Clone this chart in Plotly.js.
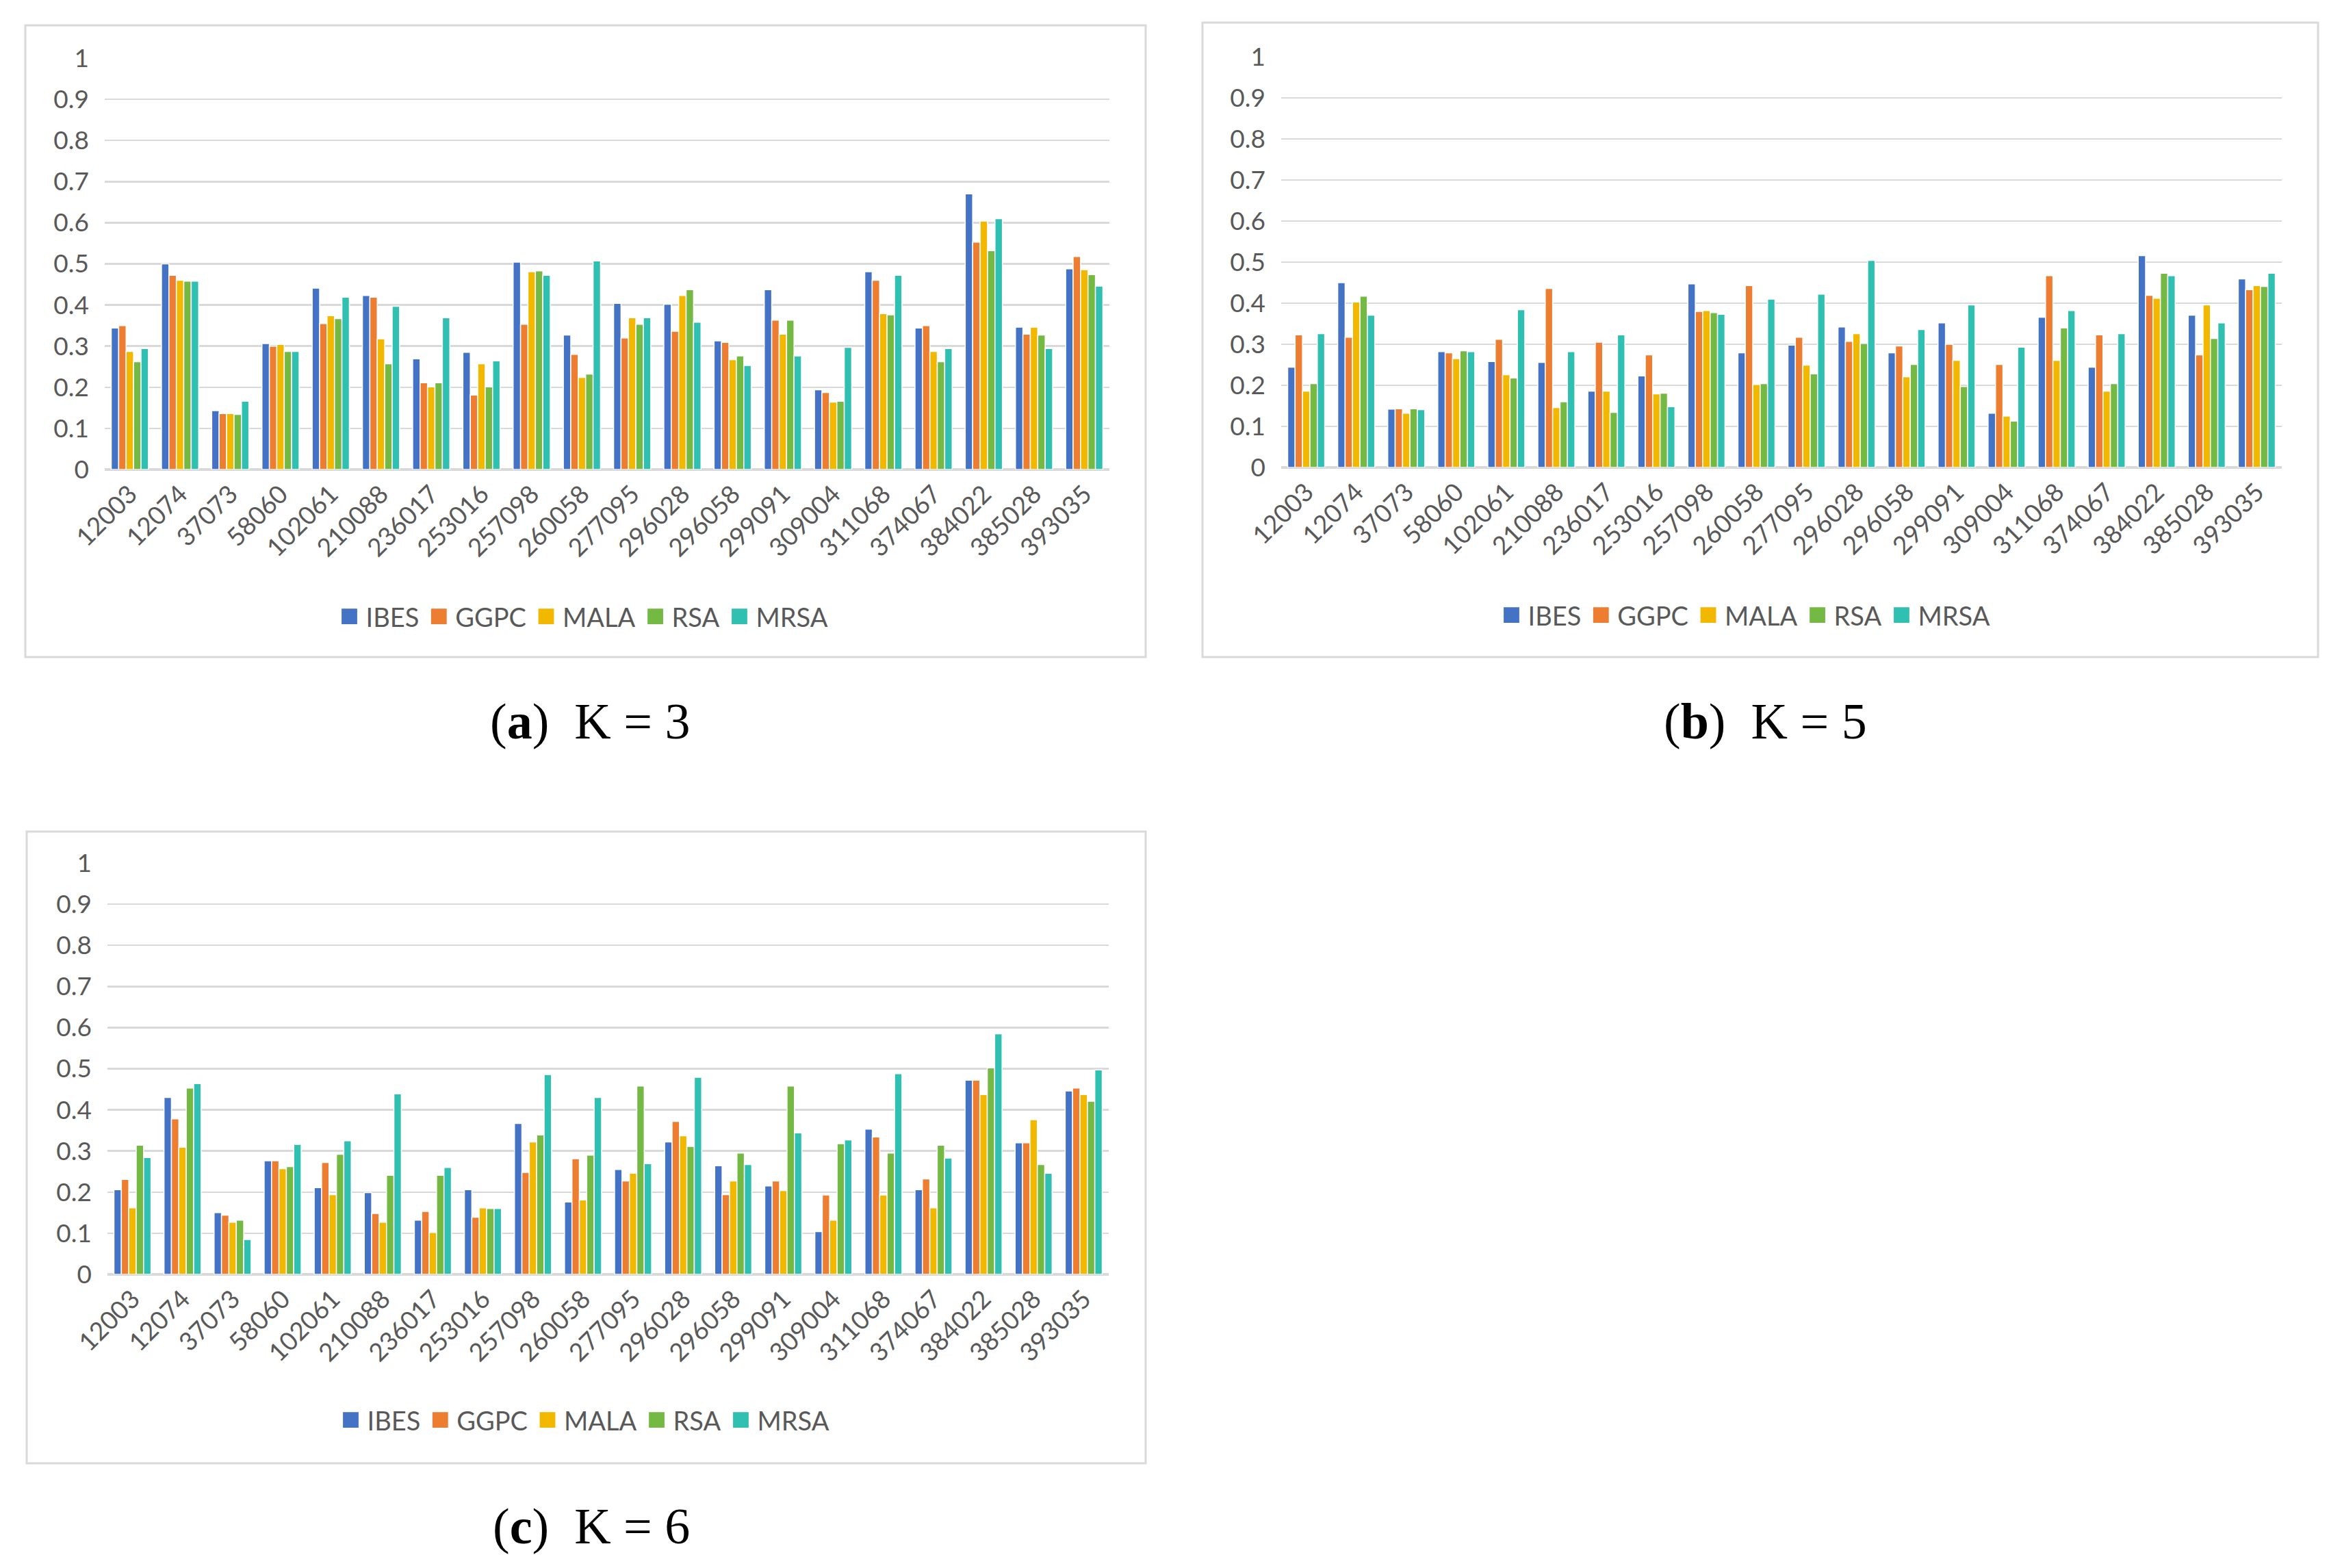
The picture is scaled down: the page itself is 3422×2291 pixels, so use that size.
<!DOCTYPE html>
<html>
<head>
<meta charset="utf-8">
<script src="https://cdn.plot.ly/plotly-3.0.1.min.js"></script>
<style>
  html, body { margin: 0; padding: 0; background: #fff; }
  #chart { width: 3422px; height: 2291px; }
</style>
</head>
<body>
<div id="chart"></div>
<script>
// Region ids on the x axis (same in every panel)
const categories = ['12003', '12074', '37073', '58060', '102061', '210088', '236017', '253016',
  '257098', '260058', '277095', '296028', '296058', '299091', '309004', '311068',
  '374067', '384022', '385028', '393035'];

const methods = ['IBES', 'GGPC', 'MALA', 'RSA', 'MRSA'];

// (a) K = 3
const k3Ibes = [0.344, 0.500, 0.143, 0.306, 0.441, 0.423, 0.269, 0.285, 0.504, 0.327,
  0.404, 0.402, 0.313, 0.437, 0.194, 0.481, 0.344, 0.670, 0.346, 0.488];
const k3Ggpc = [0.350, 0.472, 0.136, 0.300, 0.355, 0.419, 0.211, 0.181, 0.353, 0.280,
  0.320, 0.336, 0.309, 0.363, 0.187, 0.460, 0.350, 0.553, 0.329, 0.518];
const k3Mala = [0.287, 0.460, 0.136, 0.304, 0.374, 0.318, 0.201, 0.257, 0.481, 0.224,
  0.369, 0.423, 0.267, 0.329, 0.164, 0.379, 0.287, 0.604, 0.346, 0.486];
const k3Rsa = [0.262, 0.458, 0.134, 0.287, 0.367, 0.257, 0.211, 0.201, 0.483, 0.232,
  0.353, 0.437, 0.276, 0.363, 0.166, 0.376, 0.262, 0.532, 0.327, 0.474];
const k3Mrsa = [0.294, 0.458, 0.166, 0.287, 0.419, 0.397, 0.369, 0.264, 0.472, 0.507,
  0.369, 0.358, 0.253, 0.276, 0.297, 0.472, 0.294, 0.610, 0.294, 0.446];

// (b) K = 5
const k5Ibes = [0.244, 0.450, 0.142, 0.282, 0.258, 0.256, 0.186, 0.223, 0.447, 0.279,
  0.298, 0.342, 0.279, 0.352, 0.132, 0.366, 0.244, 0.516, 0.371, 0.459];
const k5Ggpc = [0.323, 0.317, 0.143, 0.279, 0.312, 0.436, 0.305, 0.274, 0.380, 0.443,
  0.317, 0.307, 0.296, 0.300, 0.251, 0.467, 0.323, 0.419, 0.274, 0.433];
const k5Mala = [0.186, 0.403, 0.132, 0.265, 0.226, 0.146, 0.186, 0.179, 0.382, 0.202,
  0.249, 0.326, 0.221, 0.261, 0.125, 0.261, 0.186, 0.412, 0.396, 0.443];
const k5Rsa = [0.204, 0.417, 0.143, 0.284, 0.218, 0.160, 0.134, 0.181, 0.377, 0.204,
  0.228, 0.302, 0.251, 0.197, 0.113, 0.340, 0.204, 0.473, 0.314, 0.441];
const k5Mrsa = [0.326, 0.371, 0.141, 0.282, 0.384, 0.282, 0.323, 0.148, 0.373, 0.410,
  0.422, 0.504, 0.336, 0.396, 0.293, 0.382, 0.326, 0.467, 0.352, 0.473];

// (c) K = 6
const k6Ibes = [0.206, 0.430, 0.150, 0.276, 0.211, 0.199, 0.132, 0.206, 0.367, 0.176,
  0.255, 0.322, 0.264, 0.215, 0.104, 0.353, 0.206, 0.472, 0.320, 0.446];
const k6Ggpc = [0.231, 0.378, 0.144, 0.276, 0.272, 0.148, 0.153, 0.139, 0.248, 0.281,
  0.227, 0.372, 0.194, 0.227, 0.193, 0.334, 0.232, 0.472, 0.320, 0.453];
const k6Mala = [0.162, 0.309, 0.127, 0.257, 0.194, 0.127, 0.102, 0.162, 0.322, 0.181,
  0.246, 0.337, 0.227, 0.204, 0.132, 0.193, 0.162, 0.437, 0.376, 0.437];
const k6Rsa = [0.314, 0.453, 0.132, 0.262, 0.292, 0.241, 0.241, 0.160, 0.339, 0.290,
  0.458, 0.311, 0.295, 0.458, 0.318, 0.295, 0.314, 0.502, 0.267, 0.421];
const k6Mrsa = [0.284, 0.464, 0.085, 0.316, 0.325, 0.439, 0.260, 0.160, 0.486, 0.430,
  0.269, 0.479, 0.267, 0.344, 0.327, 0.488, 0.283, 0.585, 0.246, 0.497];

const COLORS = ['#4472C4', '#ED7D31', '#F2B800', '#74B943', '#30C0B1'];
const TEXT = '#595959';
const GRID = '#D9D9D9';
const FONT = 'Lato, "Open Sans", sans-serif';

const W = 3422, H = 2291;
const px = (x) => x / W;
const py = (y) => 1 - y / H;

const panels = [
  { series: [k3Ibes, k3Ggpc, k3Mala, k3Rsa, k3Mrsa], ax: '', legend: 'legend',
    plot: [153, 1621, 85, 686], box: [37, 1674, 37, 960], legendXY: [851, 901],
    caption: '(<b>a</b>)  K = 3', captionXY: [862, 1054] },
  { series: [k5Ibes, k5Ggpc, k5Mala, k5Rsa, k5Mrsa], ax: '2', legend: 'legend2',
    plot: [1872, 3334, 83, 683], box: [1757, 3387, 33, 960], legendXY: [2549, 899],
    caption: '(<b>b</b>)  K = 5', captionXY: [2579, 1054] },
  { series: [k6Ibes, k6Ggpc, k6Mala, k6Rsa, k6Mrsa], ax: '3', legend: 'legend3',
    plot: [157, 1620, 1261, 1862], box: [39, 1674, 1215, 2138], legendXY: [853, 2075],
    caption: '(<b>c</b>)  K = 6', captionXY: [864, 2230] },
];

const traces = [];
const layout = {
  width: W,
  height: H,
  margin: { l: 0, r: 0, t: 0, b: 0 },
  paper_bgcolor: '#fff',
  plot_bgcolor: 'rgba(0,0,0,0)',
  barmode: 'group',
  bargap: 0.26,
  bargroupgap: 0,
  font: { family: FONT, size: 37, color: TEXT },
  shapes: [],
  annotations: [],
};

panels.forEach((p) => {
  p.series.forEach((values, i) => {
    traces.push({
      type: 'bar',
      name: methods[i],
      x: categories,
      y: values,
      xaxis: 'x' + p.ax,
      yaxis: 'y' + p.ax,
      legend: p.legend,
      marker: { color: COLORS[i], line: { color: '#fff', width: 1.5 } },
      hoverinfo: 'x+y+name',
    });
  });

  const [x0, x1, yTop, yBottom] = p.plot;
  layout['xaxis' + p.ax] = {
    domain: [px(x0), px(x1)],
    anchor: 'y' + p.ax,
    type: 'category',
    range: [-0.5, categories.length - 0.5],
    tickangle: -45,
    ticks: '',
    ticklabelstandoff: 6,
    showgrid: false,
    showline: false,
    zeroline: false,
    tickfont: { family: FONT, size: 37, color: TEXT },
    fixedrange: true,
  };
  layout['yaxis' + p.ax] = {
    domain: [py(yBottom), py(yTop)],
    anchor: 'x' + p.ax,
    range: [0, 1],
    dtick: 0.1,
    tick0: 0,
    ticks: '',
    ticklabelstandoff: 22,
    showgrid: true,
    gridcolor: GRID,
    gridwidth: 2.5,
    zeroline: true,
    zerolinecolor: GRID,
    zerolinewidth: 3.5,
    showline: false,
    tickfont: { family: FONT, size: 37, color: TEXT },
    fixedrange: true,
  };
  layout[p.legend] = {
    orientation: 'h',
    x: px(p.legendXY[0]),
    y: py(p.legendXY[1]),
    xanchor: 'center',
    yanchor: 'middle',
    bgcolor: 'rgba(0,0,0,0)',
    font: { family: FONT, size: 38, color: TEXT },
    itemwidth: 38,
    tracegroupgap: 0,
  };

  const [bx0, bx1, by0, by1] = p.box;
  layout.shapes.push({
    type: 'rect', xref: 'paper', yref: 'paper',
    x0: px(bx0), x1: px(bx1), y0: py(by1), y1: py(by0),
    line: { color: GRID, width: 3 }, fillcolor: 'rgba(0,0,0,0)', layer: 'below',
  });
  layout.annotations.push({
    xref: 'paper', yref: 'paper',
    x: px(p.captionXY[0]), y: py(p.captionXY[1]),
    xanchor: 'center', yanchor: 'middle',
    showarrow: false,
    text: p.caption,
    font: { family: '"Liberation Serif", "DejaVu Serif", serif', size: 74, color: '#000' },
  });
});

Plotly.newPlot('chart', traces, layout, { displayModeBar: false, staticPlot: true })
  .then((gd) => {
    // bar legend icons are a fixed 12px square; the reference uses ~24px squares
    gd.querySelectorAll('.legendpoints path').forEach((el) => {
      el.setAttribute('transform', 'translate(24,0) scale(1.9)');
      el.style.strokeWidth = '0';
    });
  });
</script>
</body>
</html>
